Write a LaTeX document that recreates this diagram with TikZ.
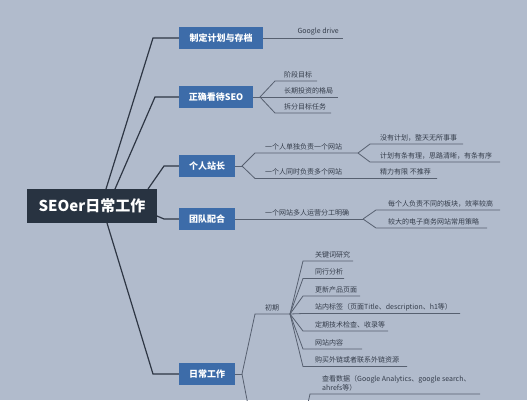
\documentclass[tikz,border=0pt]{standalone}
\usepackage{fontspec}
\setmainfont{Noto Sans CJK SC}
\definecolor{bgc}{HTML}{B1BBCC}
\definecolor{rootc}{HTML}{283341}
\definecolor{branchc}{HTML}{3D6CA9}
\definecolor{mainln}{HTML}{2E3644}
\definecolor{subln}{HTML}{576070}
\definecolor{subtx}{HTML}{353D4B}
\begin{document}
\begin{tikzpicture}[x=1pt,y=-1pt,
  rootbox/.style={fill=rootc,text=white,font=\fontsize{15}{18}\selectfont\bfseries,minimum width=130pt,minimum height=34pt,inner sep=0pt},
  branchbox/.style={fill=branchc,text=white,font=\fontsize{9}{11}\selectfont\bfseries,minimum height=22pt,inner sep=0pt},
  mainline/.style={draw=mainln,line width=1.2pt},
  subline/.style={draw=subln,line width=0.8pt},
  leaf/.style={text=subtx,font=\fontsize{7}{9}\selectfont,inner sep=0pt,anchor=west}]
\useasboundingbox (0,0) rectangle (527,400);
\fill[bgc] (0,0) rectangle (527,400);
\clip (0,0) rectangle (527,400);

% root and branches
\node[rootbox] (root) at (92,206) {SEOer日常工作};
\node[branchbox,minimum width=84pt] (b1) at (221,38) {制定计划与存档};
\node[branchbox,minimum width=74pt] (b2) at (216,97) {正确看待SEO};
\node[branchbox,minimum width=56pt] (b3) at (207,166) {个人站长};
\node[branchbox,minimum width=56pt] (b4) at (207,219) {团队配合};
\node[branchbox,minimum width=56pt] (b5) at (207,374) {日常工作};

% root connectors
\coordinate (r1) at (106,189); \coordinate (k1) at (153,38);
\coordinate (r2) at (115,189); \coordinate (k2) at (155,97);
\coordinate (r3) at (148,189); \coordinate (k3) at (164,166);
\coordinate (r4) at (157,216); \coordinate (k4) at (164,219);
\coordinate (r5) at (107,223); \coordinate (k5) at (153,374);
\draw[mainline] (r1) -- (k1) -- (b1.west);
\draw[mainline] (r2) -- (k2) -- (b2.west);
\draw[mainline] (r3) -- (k3) -- (b3.west);
\draw[mainline] (r4) -- (k4) -- (b4.west);
\draw[mainline] (r5) -- (k5) -- (b5.west);

% branch 1
\coordinate (e11) at (343,38);
\draw[subline] (b1.east) -- (e11);
\node[leaf,anchor=east] (t11) at (339,31.5) {Google drive};

% branch 2
\coordinate (f2) at (260,97);
\coordinate (a21) at (275,81); \coordinate (e21) at (317,81);
\coordinate (e22) at (338,97);
\coordinate (a23) at (275,113); \coordinate (e23) at (331,113);
\draw[subline] (b2.east) -- (f2);
\draw[subline] (f2) -- (a21) -- (e21);
\draw[subline] (f2) -- (e22);
\draw[subline] (f2) -- (a23) -- (e23);
\node[leaf] (t21) at (284,74.5) {阶段目标};
\node[leaf] (t22) at (284,90.5) {长期投资的格局};
\node[leaf] (t23) at (284,106.5) {拆分目标任务};

% branch 3
\coordinate (f3) at (242,166);
\coordinate (a31) at (255,153); \coordinate (f31) at (358,153);
\coordinate (a32) at (255,178.5); \coordinate (e32) at (437,178.5);
\draw[subline] (b3.east) -- (f3);
\draw[subline] (f3) -- (a31) -- (f31);
\draw[subline] (f3) -- (a32) -- (e32);
\node[leaf] (t31) at (265,146.5) {一个人单独负责一个网站};
\node[leaf] (t32) at (265,172) {一个人同时负责多个网站};
\coordinate (a311) at (370,144); \coordinate (e311) at (463,144);
\coordinate (a312) at (370,162); \coordinate (e312) at (500,162);
\draw[subline] (f31) -- (a311) -- (e311);
\draw[subline] (f31) -- (a312) -- (e312);
\node[leaf] (t311) at (380,137.5) {没有计划，整天无所事事};
\node[leaf] (t312) at (380,155.5) {计划有条有理，思路清晰，有条有序};
\node[leaf] (t321) at (380,172) {精力有限 不推荐};

% branch 4
\coordinate (f41) at (363,219);
\draw[subline] (b4.east) -- (f41);
\node[leaf] (t41) at (265,212.5) {一个网站多人运营分工明确};
\coordinate (a411) at (376,210); \coordinate (e411) at (500,210);
\coordinate (a412) at (376,228); \coordinate (e412) at (487,228);
\draw[subline] (f41) -- (a411) -- (e411);
\draw[subline] (f41) -- (a412) -- (e412);
\node[leaf] (t411) at (388,203.5) {每个人负责不同的板块，效率较高};
\node[leaf] (t412) at (388,221.5) {较大的电子商务网站常用策略};

% branch 5
\coordinate (f5) at (242,374);
\coordinate (a51) at (255,314); \coordinate (f51) at (290,314);
\coordinate (a52) at (249,410);
\draw[subline] (b5.east) -- (f5);
\draw[subline] (f5) -- (a51) -- (f51);
\draw[subline] (f5) -- (a52);
\node[leaf] (t51) at (265,307.5) {初期};
\foreach \n/\y/\xe/\txt in {1/261/353/关键词研究, 2/278.5/344/同行分析, 3/296/360/更新产品页面,
  4/313.5/460/{站内标签（页面Title、description、h1等）}, 5/331/388/定期技术检查、收录等,
  6/349/362/网站内容, 7/366.5/407/购买外链或者联系外链资源}{
  \coordinate (a51\n) at (303,\y);
  \coordinate (e51\n) at (\xe,\y);
  \draw[subline] (f51) -- (a51\n) -- (e51\n);
  \node[leaf] (t51\n) at (315,\y-6.5) {\txt};
}
\coordinate (f61) at (306,412); \coordinate (a61) at (310,394); \coordinate (e61) at (480,394);
\draw[subline] (f61) -- (a61) -- (e61);
\node[leaf,align=left,anchor=south west] (t61) at (322,391) {查看数据（Google Analytics、google search、\\ahrefs等）};
\end{tikzpicture}
\end{document}
